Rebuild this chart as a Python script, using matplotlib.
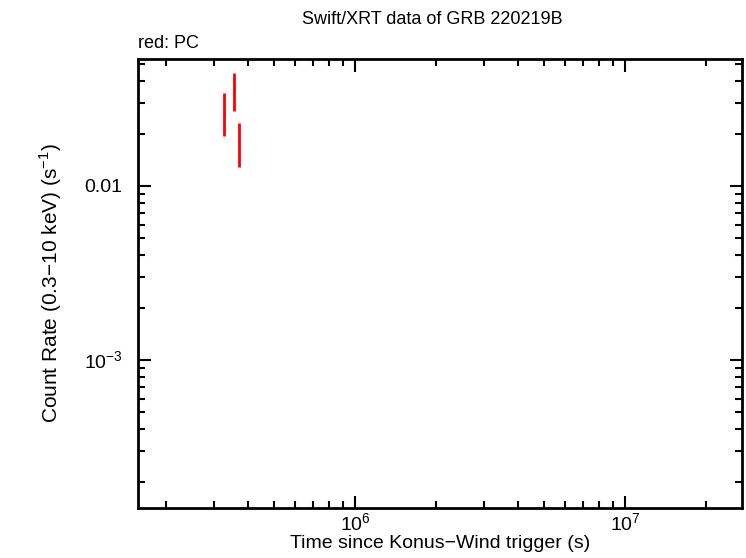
import matplotlib
matplotlib.use("Agg")
import matplotlib.pyplot as plt
from matplotlib.ticker import LogLocator, FixedLocator, FixedFormatter, NullFormatter

plt.rcParams['font.family'] = ['Liberation Sans', 'DejaVu Sans']
plt.rcParams['mathtext.fontset'] = 'custom'
plt.rcParams['mathtext.rm'] = 'Liberation Sans'

# PC data (red)
t = [3.28e5, 3.57e5, 3.70e5]
t_err_lo = [1.5e3, 1.5e3, 2.5e3]
t_err_hi = [1.5e3, 1.5e3, 1.0e3]
rate = [0.0260, 0.0355, 0.0177]
rate_lo = [0.0193, 0.0271, 0.0129]
rate_hi = [0.0342, 0.0445, 0.0230]

xlim = (1.57e5, 2.71e7)
ylim = (1.41e-4, 0.0537)

fig = plt.figure(figsize=(7.46, 5.58), dpi=100)
ax = fig.add_axes([0.185, 0.0896, 0.8096, 0.8047])
ax.set_xscale('log')
ax.set_yscale('log')

yerr = [[r - lo for r, lo in zip(rate, rate_lo)], [hi - r for r, hi in zip(rate, rate_hi)]]
ax.errorbar(t, rate, xerr=[t_err_lo, t_err_hi], yerr=yerr, fmt='none',
            ecolor='#ff0000', elinewidth=2, capsize=0)

ax.set_xlim(*xlim)
ax.set_ylim(*ylim)

ax.xaxis.set_major_locator(FixedLocator([1e6, 1e7]))
ax.xaxis.set_major_formatter(FixedFormatter(['$10^{6}$', '$10^{7}$']))
ax.xaxis.set_minor_locator(LogLocator(base=10, subs=range(2, 10), numticks=20))
ax.xaxis.set_minor_formatter(NullFormatter())
ax.yaxis.set_major_locator(FixedLocator([1e-3, 1e-2]))
ax.yaxis.set_major_formatter(FixedFormatter(['$10^{-3}$', '0.01']))
ax.yaxis.set_minor_locator(LogLocator(base=10, subs=range(2, 10), numticks=20))
ax.yaxis.set_minor_formatter(NullFormatter())

ax.tick_params(which='both', direction='in', top=True, right=True, width=1.5,
               labelsize=14)
ax.tick_params(axis='y', which='both', pad=11)
ax.tick_params(axis='x', which='both', pad=3)
ax.tick_params(which='major', length=9)
ax.tick_params(which='minor', length=5)
for s in ax.spines.values():
    s.set_linewidth(2)

ax.set_xlabel('Time since Konus\u2212Wind trigger (s)', fontsize=14, labelpad=0)
ax.set_ylabel('Count Rate (0.3\u221210 keV) (s$^{-1}$)', fontsize=15, labelpad=14)
fig.text(0.5795, 0.965, 'Swift/XRT data of GRB 220219B', ha='center', va='center', fontsize=13)
fig.text(0.185, 0.922, 'red: PC', ha='left', va='center', fontsize=13)

fig.savefig('out.png', dpi=100)
